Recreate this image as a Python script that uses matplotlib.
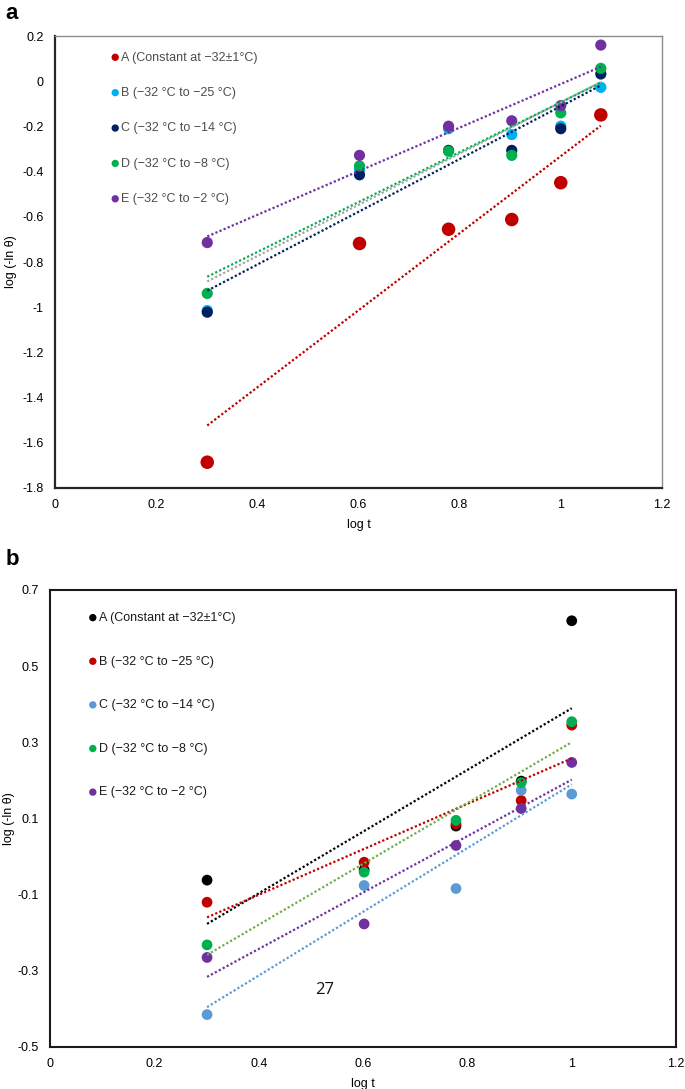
import matplotlib
matplotlib.use('Agg', force=True)

import numpy as np
import matplotlib.pyplot as plt

plt.rcParams['font.family'] = ['Liberation Sans', 'DejaVu Sans']

# ---- panel a data ----
xa = np.log10([2, 4, 6, 8, 10, 12])
a_A = [-1.686, -0.718, -0.655, -0.612, -0.449, -0.149]
a_B = [-1.015, -0.390, -0.210, -0.236, -0.199, -0.027]
a_C = [-1.022, -0.414, -0.306, -0.306, -0.210, 0.032]
a_D = [-0.939, -0.375, -0.310, -0.328, -0.140, 0.057]
a_E = [-0.714, -0.328, -0.199, -0.175, -0.108, 0.160]

# ---- panel b data ----
xb = np.log10([2, 4, 6, 8, 10])
b_A = [-0.062, -0.035, 0.080, 0.198, 0.619]
b_B = [-0.120, -0.015, 0.086, 0.147, 0.345]
b_C = [-0.415, -0.076, -0.084, 0.174, 0.164]
b_D = [-0.232, -0.041, 0.095, 0.194, 0.354]
b_E = [-0.265, -0.177, 0.029, 0.126, 0.247]

labels = ["A (Constant at \u221232\u00b11\u00b0C)",
          "B (\u221232 \u00b0C to \u221225 \u00b0C)",
          "C (\u221232 \u00b0C to \u221214 \u00b0C)",
          "D (\u221232 \u00b0C to \u22128 \u00b0C)",
          "E (\u221232 \u00b0C to \u22122 \u00b0C)"]

a_series = [a_A, a_B, a_C, a_D, a_E]
a_colors = ['#C00000', '#00B0F0', '#002060', '#00B050', '#7030A0']
a_trend = ['#C00000', '#A5A5A5', '#002060', '#00B050', '#7030A0']
a_sizes = [95, 65, 65, 65, 65]

b_series = [b_A, b_B, b_C, b_D, b_E]
b_colors = ['#000000', '#C00000', '#5B9BD5', '#00B050', '#7030A0']
b_trend = ['#000000', '#C00000', '#5B9BD5', '#70AD47', '#7030A0']

a_yticks = [0.2, 0, -0.2, -0.4, -0.6, -0.8, -1, -1.2, -1.4, -1.6, -1.8]
b_yticks = [0.7, 0.5, 0.3, 0.1, -0.1, -0.3, -0.5]
xticks = [0, 0.2, 0.4, 0.6, 0.8, 1, 1.2]


def fmt(v):
    s = ('%.1f' % v).rstrip('0').rstrip('.')
    return '0' if s in ('-0', '0') else s


fig = plt.figure(figsize=(6.85, 10.89), dpi=100)
ax1 = fig.add_axes([0.0803, 0.5519, 0.886, 0.415])
ax2 = fig.add_axes([0.073, 0.0386, 0.914, 0.4197])


def draw(ax, x, series, colors, trend, sizes, legspace, anchor, legcolor, ylx):
    handles = []
    for ys, c, s, lab in zip(series, colors, sizes, labels):
        h = ax.scatter(x, ys, s=s, color=c, edgecolors='none', zorder=3, label=lab)
        handles.append(h)
    # linear trend lines (dotted), fitted to each series
    for ys, tc in zip(series, trend):
        k, b = np.polyfit(x, ys, 1)
        xx = np.array([x[0], x[-1]])
        ax.plot(xx, k * xx + b, color=tc, lw=1.6, linestyle=(0, (1, 1)), zorder=4)
    leg = ax.legend(handles=handles, loc='upper left', frameon=False, fontsize=9,
                    handletextpad=0.0, handlelength=1.0, labelspacing=legspace,
                    bbox_to_anchor=anchor, scatterpoints=1, borderaxespad=0.3)
    for h in leg.legend_handles:
        h.set_sizes([28])
    for t in leg.get_texts():
        t.set_color(legcolor)
    ax.set_xlim(0, 1.2)
    ax.set_xticks(xticks)
    ax.set_xticklabels([fmt(v) for v in xticks])
    ax.tick_params(length=0, labelsize=9, pad=8)
    ax.set_xlabel('log t', fontsize=9, labelpad=6)
    ax.set_ylabel('log (-ln \u03b8)', fontsize=9, va='center')
    ax.yaxis.set_label_coords(ylx, 0.5)


draw(ax1, xa, a_series, a_colors, a_trend, a_sizes, 1.87,
     (0.0745, 0.985), '#4d4d4d', -0.072)
ax1.set_ylim(-1.8, 0.2)
ax1.set_yticks(a_yticks)
ax1.set_yticklabels([fmt(v) for v in a_yticks])
for s in ['top', 'right']:
    ax1.spines[s].set_color('#8c8c8c')
    ax1.spines[s].set_linewidth(1.0)
for s in ['left', 'bottom']:
    ax1.spines[s].set_color('#262626')
    ax1.spines[s].set_linewidth(1.6)

draw(ax2, xb, b_series, b_colors, b_trend, [60] * 5, 2.53,
     (0.0444, 0.971), '#1a1a1a', -0.066)
ax2.set_ylim(-0.5, 0.7)
ax2.set_yticks(b_yticks)
ax2.set_yticklabels([fmt(v) for v in b_yticks])
for s in ax2.spines.values():
    s.set_color('#1a1a1a')
    s.set_linewidth(1.5)

ax2.text(0.527, -0.350, '27', fontsize=12, family=['Open Sans', 'DejaVu Sans'],
         ha='center', va='center', color='#111111')

fig.text(0.008, 0.997, 'a', fontsize=16, fontweight='bold', va='top', ha='left')
fig.text(0.008, 0.496, 'b', fontsize=16, fontweight='bold', va='top', ha='left')

fig.savefig('out.png', dpi=100)
